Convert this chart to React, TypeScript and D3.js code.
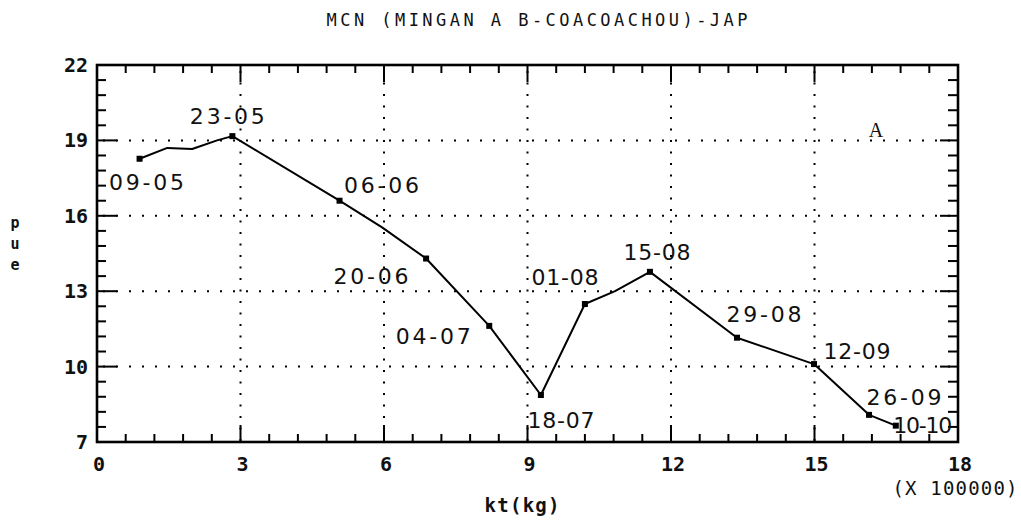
import React from "react";
import * as d3 from "d3";

// Chart text
const chartTitle = "MCN (MINGAN A B-COACOACHOU)-JAP";
const xAxisTitle = "kt(kg)";
const yAxisTitle = "pue";
const xMultiplierNote = "(X 100000)";
const panelTag = "A";

// Axis ticks (x in units of 100 000 kg)
const xTickValues = [0, 3, 6, 9, 12, 15, 18];
const yTickValues = [7, 10, 13, 16, 19, 22];

// Cumulative catch (kt) vs CPUE (pue); empty label = unmarked vertex on the curve
const dateLabels = ["09-05", "", "", "", "23-05", "06-06", "", "20-06", "04-07", "18-07", "01-08", "", "15-08", "29-08", "12-09", "26-09", "10-10"];
const ktValues = [0.89, 1.47, 1.99, 2.51, 2.83, 5.07, 5.96, 6.88, 8.2, 9.28, 10.2, 10.83, 11.56, 13.38, 14.99, 16.14, 16.7];
const pueValues = [18.27, 18.7, 18.66, 19.0, 19.17, 16.6, 15.54, 14.3, 11.62, 8.87, 12.49, 13.0, 13.77, 11.15, 10.1, 8.08, 7.65];

// Label placement: offset of each date label's centre from its point (px)
const labelDx = [7, 0, 0, 0, -5, 42, 0, -55, -56, 20, -20, 0, 7, 27, 43, 35, 27];
const labelDy = [23, 0, 0, 0, -20, -16, 0, 17, 10, 25, -27, 0, -20, -24, -13, -18, -1];

const W = 1021;
const H = 520;
const left = 97;
const right = 958;
const top = 65;
const bottom = 442;

const monoFont = "'DejaVu Sans Mono', 'Liberation Mono', monospace";
const labelFont = "'DejaVu Sans', 'Noto Sans', sans-serif";

function labelWidth(s: string): number {
  let w = 0;
  for (const c of s) w += c === "1" ? 8 : c === "-" ? 11 : 16;
  return w;
}

export default function App() {
  const x = d3.scaleLinear().domain([0, 18]).range([left, right]);
  const y = d3.scaleLinear().domain([7, 22]).range([bottom, top]);

  const points = ktValues.map((k, i) => ({ k, p: pueValues[i], label: dateLabels[i], i }));
  const line = d3
    .line<{ k: number; p: number }>()
    .x((d) => x(d.k))
    .y((d) => y(d.p))(points);

  const minorX = d3.range(0, 18.0001, 0.6).filter((v) => v > 0.01 && v < 17.99);
  const minorY = d3.range(7, 22.0001, 0.6).filter((v) => v > 7.01 && v < 21.99);
  const isMajor = (v: number, base: number) => Math.abs((v - base) / 3 - Math.round((v - base) / 3)) < 1e-6;

  const gridX = xTickValues.filter((v) => v > 0 && v < 18);
  const gridY = yTickValues.filter((v) => v > 7 && v < 22);

  return (
    <svg
      width={W}
      height={H}
      viewBox={`0 0 ${W} ${H}`}
      style={{ position: "absolute", left: 0, top: 0, background: "#fff" }}
    >
      <rect x={0} y={0} width={W} height={H} fill="#fff" />

      {/* title */}
      <text
        x={537}
        y={26}
        textAnchor="middle"
        fontFamily={monoFont}
        fontSize={17}
        textLength={421}
        lengthAdjust="spacing"
        fill="#111"
      >
        {chartTitle}
      </text>

      {/* dotted grid */}
      {gridX.map((v) => (
        <line key={"gx" + v} x1={x(v)} x2={x(v)} y1={top + 6} y2={bottom} stroke="#000" strokeWidth={2} strokeDasharray="2 9.5" />
      ))}
      {gridY.map((v) => (
        <line key={"gy" + v} x1={left + 6} x2={right} y1={y(v)} y2={y(v)} stroke="#000" strokeWidth={2} strokeDasharray="2 11" />
      ))}

      {/* ticks on all four sides, pointing inward */}
      {minorX.map((v) => {
        const len = isMajor(v, 0) ? 17 : 8;
        return (
          <g key={"tx" + v}>
            <line x1={x(v)} x2={x(v)} y1={bottom} y2={bottom - len} stroke="#000" strokeWidth={2} />
            <line x1={x(v)} x2={x(v)} y1={top} y2={top + len} stroke="#000" strokeWidth={2} />
          </g>
        );
      })}
      {minorY.map((v) => {
        const major = isMajor(v, 7);
        return (
          <g key={"ty" + v}>
            <line x1={left} x2={left + (major ? 20 : 9)} y1={y(v)} y2={y(v)} stroke="#000" strokeWidth={2} />
            <line x1={right} x2={right - (major ? 18 : 10)} y1={y(v)} y2={y(v)} stroke="#000" strokeWidth={2} />
          </g>
        );
      })}

      {/* frame */}
      <rect x={left} y={top} width={right - left} height={bottom - top} fill="none" stroke="#000" strokeWidth={2.6} />

      {/* tick labels */}
      {yTickValues.map((v) => (
        <text
          key={"yl" + v}
          x={88}
          y={y(v) + 7}
          textAnchor="end"
          fontFamily={monoFont}
          fontWeight="bold"
          fontSize={20}
          fill="#111"
        >
          {v}
        </text>
      ))}
      {xTickValues.map((v) => (
        <text
          key={"xl" + v}
          x={x(v) + 2}
          y={471}
          textAnchor="middle"
          fontFamily={monoFont}
          fontWeight="bold"
          fontSize={20}
          fill="#111"
        >
          {v}
        </text>
      ))}
      <text x={955} y={495} textAnchor="middle" fontFamily={monoFont} fontSize={19} textLength={125} lengthAdjust="spacing" fill="#111">
        {xMultiplierNote}
      </text>

      {/* axis titles */}
      <text x={522} y={512} textAnchor="middle" fontFamily={monoFont} fontWeight="bold" fontSize={19} textLength={75} lengthAdjust="spacing" fill="#111">
        {xAxisTitle}
      </text>
      {yAxisTitle.split("").map((c, i) => (
        <text key={"ya" + i} x={15} y={228 + i * 21} textAnchor="middle" fontFamily={monoFont} fontWeight="bold" fontSize={15} fill="#111">
          {c}
        </text>
      ))}

      {/* curve */}
      <path d={line ?? ""} fill="none" stroke="#000" strokeWidth={2} strokeLinejoin="round" />

      {/* markers and date labels */}
      {points
        .filter((d) => d.label !== "")
        .map((d) => (
          <g key={"pt" + d.i}>
            <rect x={x(d.k) - 3} y={y(d.p) - 3} width={6} height={6} fill="#000" />
            <text
              x={x(d.k) + labelDx[d.i]}
              y={y(d.p) + labelDy[d.i] + 8}
              textAnchor="middle"
              fontFamily={labelFont}
              fontSize={22}
              textLength={labelWidth(d.label)}
              lengthAdjust="spacing"
              fill="#111"
            >
              {d.label}
            </text>
          </g>
        ))}

      {/* panel tag */}
      <text x={876} y={137} textAnchor="middle" fontFamily="'Liberation Serif', 'DejaVu Serif', serif" fontSize={20} fill="#111">
        {panelTag}
      </text>
    </svg>
  );
}
